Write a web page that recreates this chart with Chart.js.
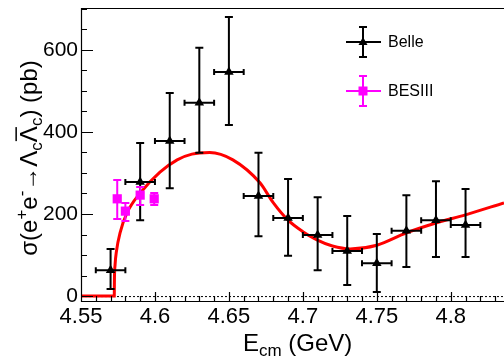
<!DOCTYPE html>
<html>
<head>
<meta charset="utf-8">
<script src="https://cdn.jsdelivr.net/npm/chart.js@4.4.1/dist/chart.umd.min.js"></script>
<style>
html, body { margin: 0; padding: 0; background: #fff; }
#wrap { width: 504px; height: 356px; }
</style>
</head>
<body>
<div id="wrap"><canvas id="myChart"></canvas></div>
<script>
// Belle points (GeV, pb) with asymmetric errors
const belleE = [4.57, 4.59, 4.61, 4.63, 4.65, 4.67, 4.69, 4.71, 4.73, 4.75, 4.77, 4.79, 4.81]
const belleXS = [63, 278, 378, 471, 546, 244, 190, 149, 110, 80, 159, 185, 173]
const belleUp = [52, 95, 117, 134, 134, 105, 95, 92, 85, 71, 87, 95, 88]
const belleDown = [46, 93, 115, 122, 129, 98, 92, 86, 83, 70, 88, 90, 78]
const belleEErr = [0.01, 0.01, 0.01, 0.01, 0.01, 0.01, 0.01, 0.01, 0.01, 0.01, 0.01, 0.01, 0.01]

// BESIII points
const besE = [4.5745, 4.58, 4.59, 4.5995]
const besXS = [237, 207, 246, 237]
const besUp = [46, 20, 20, 14]
const besDown = [49, 24, 24, 15]

// fit curve
const fitE = [4.55, 4.5725, 4.5726, 4.573, 4.574, 4.5764, 4.581, 4.59, 4.6034, 4.615, 4.625, 4.637, 4.6527, 4.671, 4.6797, 4.69, 4.70, 4.7095, 4.72, 4.732, 4.75, 4.77, 4.79, 4.81, 4.836]
const fitXS = [0, 0, 40, 75, 110, 154, 202, 251, 302, 332, 346, 350, 332, 276, 229, 185, 157, 137, 122, 115, 124, 154, 178, 198, 227]

const xTicks = [4.55, 4.6, 4.65, 4.7, 4.75, 4.8]
const yTicks = [0, 200, 400, 600]

const FONT = '"Liberation Sans", Arial, Helvetica, sans-serif'

function toPoints(xs, ys){
    return xs.map((x, i) => ({x, y: ys[i]}))
}

// error bars drawn under each dataset's markers
const errorBars = {
    id: 'errorBars',
    beforeDatasetDraw(chart, args){
        const ds = chart.data.datasets[args.index]
        if(!ds.errUp) return
        const xs = chart.scales.x, ys = chart.scales.y
        const ctx = chart.ctx
        ctx.save()
        ctx.strokeStyle = ds.borderColor
        ctx.lineWidth = 2
        ctx.beginPath()
        ds.data.forEach((p, i) => {
            const px = xs.getPixelForValue(p.x)
            const top = ys.getPixelForValue(p.y + ds.errUp[i])
            const bot = ys.getPixelForValue(p.y - ds.errDown[i])
            ctx.moveTo(px, top); ctx.lineTo(px, bot)
            ctx.moveTo(px - 4, top); ctx.lineTo(px + 4, top)
            ctx.moveTo(px - 4, bot); ctx.lineTo(px + 4, bot)
            if(ds.errX){
                const py = ys.getPixelForValue(p.y)
                const l = xs.getPixelForValue(p.x - ds.errX[i])
                const r = xs.getPixelForValue(p.x + ds.errX[i])
                ctx.moveTo(l, py); ctx.lineTo(r, py)
                ctx.moveTo(l, py - 3); ctx.lineTo(l, py + 3)
                ctx.moveTo(r, py - 3); ctx.lineTo(r, py + 3)
            }
        })
        ctx.stroke()
        ctx.restore()
    }
}

// the plot runs off the right edge of the picture
const stretchRight = {
    id: 'stretchRight',
    afterLayout(chart){
        const xs = chart.scales.x
        const a = chart.chartArea
        a.right = chart.width
        a.width = a.right - a.left
        xs.right = chart.width
        xs.width = xs.right - xs.left
        xs.configure()
    }
}

// draw text with sub/superscripts; parts = [text, kind, overline]
function richWidth(ctx, parts, size){
    let w = 0
    parts.forEach(([t, k]) => {
        ctx.font = `${k === 'b' ? size : Math.round(size * 0.7)}px ${FONT}`
        w += ctx.measureText(t).width
    })
    return w
}
function drawRich(ctx, parts, x, y, size){
    let cx = x
    parts.forEach(([t, k, over]) => {
        const s = k === 'b' ? size : Math.round(size * 0.7)
        ctx.font = `${s}px ${FONT}`
        let dy = 0
        if(k === 'sup') dy = -size * 0.42
        if(k === 'sub') dy = size * 0.22
        ctx.fillText(t, cx, y + dy)
        const w = ctx.measureText(t).width
        if(over){
            ctx.fillRect(cx + 1, y - size * 0.9, w - 2, 1.5)
        }
        cx += w
    })
}

const rootFrame = {
    id: 'rootFrame',
    beforeDatasetsDraw(chart){
        const {ctx, chartArea: a} = chart
        const y0 = chart.scales.y.getPixelForValue(0)
        ctx.save()
        ctx.strokeStyle = '#000'
        ctx.lineWidth = 1
        ctx.setLineDash([2, 2])
        ctx.beginPath()
        ctx.moveTo(a.left, y0 + 0.5); ctx.lineTo(a.right, y0 + 0.5)
        ctx.stroke()
        ctx.restore()
    },
    afterDraw(chart){
        const {ctx, chartArea: a} = chart
        const xs = chart.scales.x, ys = chart.scales.y
        ctx.save()
        ctx.strokeStyle = '#000'
        ctx.lineWidth = 1.2
        ctx.beginPath()
        ctx.moveTo(a.right, a.top + 0.5); ctx.lineTo(a.left + 0.5, a.top + 0.5)
        ctx.lineTo(a.left + 0.5, a.bottom + 0.5); ctx.lineTo(a.right, a.bottom + 0.5)
        // y ticks, every 50
        for(let v = 0; v <= ys.max; v += 50){
            const py = Math.round(ys.getPixelForValue(v)) + 0.5
            const len = v % 200 === 0 ? 12 : 6
            ctx.moveTo(a.left, py); ctx.lineTo(a.left + len, py)
        }
        // x ticks, every 0.01
        for(let k = 0; ; k++){
            const v = 4.55 + k * 0.01
            if(v > xs.max) break
            const px = Math.round(xs.getPixelForValue(v)) + 0.5
            const len = k % 5 === 0 ? 9 : 5
            ctx.moveTo(px, a.bottom); ctx.lineTo(px, a.bottom - len)
        }
        ctx.stroke()

        // axis titles
        ctx.fillStyle = '#000'
        ctx.textBaseline = 'alphabetic'
        ctx.textAlign = 'left'
        drawRich(ctx, [['E', 'b'], ['cm', 'sub'], [' (GeV)', 'b']], 243, 351, 24)

        const yParts = [['σ(e', 'b'], ['+', 'sup'], ['e', 'b'], ['-', 'sup'], ['→Λ', 'b'], ['c', 'sub'], ['Λ', 'b', true], ['c', 'sub'], [') (pb)', 'b']]
        const ySize = 24
        const yw = richWidth(ctx, yParts, ySize)
        ctx.save()
        ctx.translate(37, 158)
        ctx.rotate(-Math.PI / 2)
        drawRich(ctx, yParts, -yw / 2, 0, ySize)
        ctx.restore()

        // legend
        const items = [
            {label: 'Belle', color: '#000', y: 42, style: 'tri'},
            {label: 'BESIII', color: '#ff00ff', y: 91, style: 'sq'}
        ]
        items.forEach(it => {
            const mx = 363
            ctx.strokeStyle = it.color
            ctx.fillStyle = it.color
            ctx.lineWidth = 2
            ctx.beginPath()
            ctx.moveTo(346, it.y); ctx.lineTo(381, it.y)
            ctx.moveTo(mx, it.y - 15); ctx.lineTo(mx, it.y + 15)
            ctx.moveTo(mx - 4, it.y - 15); ctx.lineTo(mx + 4, it.y - 15)
            ctx.moveTo(mx - 4, it.y + 15); ctx.lineTo(mx + 4, it.y + 15)
            ctx.stroke()
            ctx.beginPath()
            if(it.style === 'tri'){
                ctx.moveTo(mx, it.y - 5); ctx.lineTo(mx + 4.5, it.y + 3); ctx.lineTo(mx - 4.5, it.y + 3)
            } else {
                ctx.rect(mx - 4.5, it.y - 4.5, 9, 9)
            }
            ctx.fill()
            ctx.fillStyle = '#000'
            ctx.font = `16px ${FONT}`
            ctx.textBaseline = 'middle'
            ctx.fillText(it.label, 388, it.y + 1)
        })
        ctx.restore()
    }
}

function displayChart(){
    const ctx = document.getElementById('myChart')
    new Chart(ctx, {
        type: 'scatter',
        data: {
            datasets: [
                {
                    label: 'Belle',
                    data: toPoints(belleE, belleXS),
                    errUp: belleUp,
                    errDown: belleDown,
                    errX: belleEErr,
                    pointStyle: 'triangle',
                    pointRadius: 5.5,
                    backgroundColor: '#000',
                    borderColor: '#000',
                    borderWidth: 0,
                    order: 1
                },
                {
                    label: 'BESIII',
                    data: toPoints(besE, besXS),
                    errUp: besUp,
                    errDown: besDown,
                    pointStyle: 'rect',
                    pointRadius: 6.5,
                    backgroundColor: '#ff00ff',
                    borderColor: '#ff00ff',
                    borderWidth: 0,
                    order: 0
                },
                {
                    label: 'fit',
                    type: 'line',
                    data: toPoints(fitE, fitXS),
                    borderColor: '#ff0000',
                    borderWidth: 3,
                    pointRadius: 0,
                    fill: false,
                    tension: 0.4,
                    cubicInterpolationMode: 'monotone',
                    order: 2
                }
            ]
        },
        options: {
            responsive: true,
            maintainAspectRatio: false,
            animation: false,
            layout: { padding: { top: 8, left: 0, right: 0, bottom: 0 } },
            plugins: {
                legend: { display: false },
                tooltip: { enabled: false }
            },
            scales: {
                x: {
                    type: 'linear',
                    min: 4.55,
                    max: 4.836,
                    grid: { display: false, drawTicks: false },
                    border: { display: false },
                    afterBuildTicks: s => { s.ticks = xTicks.map(v => ({value: v})) },
                    afterFit: s => { s.height = 55; s.paddingLeft = 0; s.paddingRight = 0 },
                    ticks: {
                        color: '#000',
                        font: { family: FONT, size: 22 },
                        padding: 3,
                        maxRotation: 0,
                        callback: v => String(v)
                    }
                },
                y: {
                    min: -12,
                    max: 702,
                    grid: { display: false, drawTicks: false },
                    border: { display: false },
                    afterBuildTicks: s => { s.ticks = yTicks.map(v => ({value: v})) },
                    afterFit: s => { s.width = 81; s.paddingTop = 0; s.paddingBottom = 0 },
                    ticks: {
                        color: '#000',
                        font: { family: FONT, size: 21 },
                        padding: 3
                    }
                }
            }
        },
        plugins: [stretchRight, errorBars, rootFrame]
    })
}

displayChart()
</script>
</body>
</html>
